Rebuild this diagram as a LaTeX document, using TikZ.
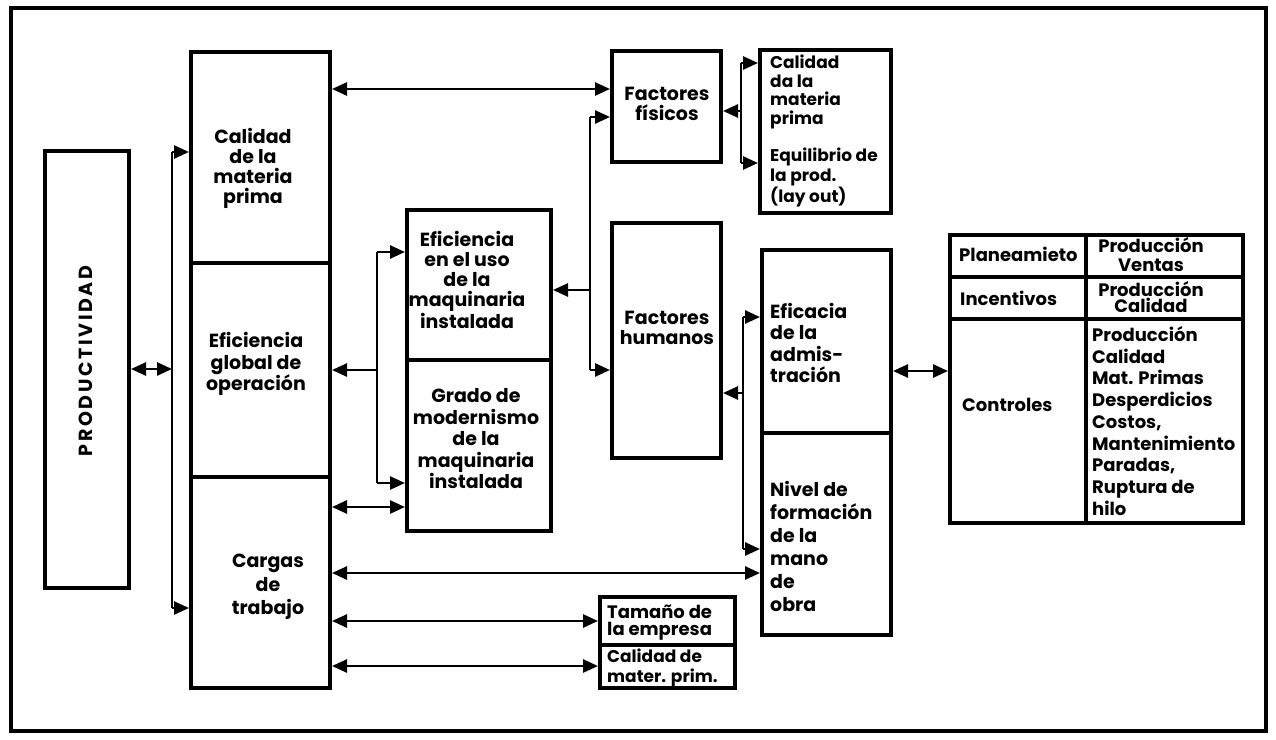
\documentclass[tikz,border=0pt]{standalone}
\usepackage{fontspec}
\setmainfont{Poppins}
\newfontfamily\prodfont[LetterSpace=14]{Poppins}
\usetikzlibrary{arrows.meta}
\newcommand\bx[5]{\node[box,minimum width={(#4)-(#2)-3.6},minimum height={(#5)-(#3)-3.6}] (#1) at (#2,#3) {};}
\begin{document}
\begin{tikzpicture}[x=1pt,y=-1pt,
 box/.style={draw,line width=3.6pt,anchor=north west,inner sep=0pt},
 conn/.style={line width=2.6pt},
 arr/.style={conn,-{Triangle[length=15pt,width=13pt]}},
 darr/.style={conn,{Triangle[length=15pt,width=13pt]}-{Triangle[length=15pt,width=13pt]}},
 lbl/.style={inner sep=0pt,align=center,font=\bfseries\fontsize{19}{21.5}\selectfont},
 lbll/.style={lbl,align=left,anchor=west},
 tabline/.style={line width=3.6pt}
]
\useasboundingbox (0,0) rectangle (1276,739);
\draw[line width=3.6pt] (11,8) rectangle (1266,731);

% boxes
\bx{prod}{43}{149}{131}{590}
\bx{cal}{189}{50}{332}{265}
\bx{efg}{189}{261}{332}{479}
\bx{carg}{189}{475}{332}{690}
\bx{efu}{405}{208}{553}{362}
\bx{grado}{405}{358}{553}{533}
\bx{ff}{610}{49}{723}{164}
\bx{fh}{610}{221}{723}{460}
\bx{rb}{758}{48}{893}{215}
\bx{efa}{760}{248}{893}{435}
\bx{niv}{760}{431}{893}{637}
\bx{tam}{598}{595}{737}{647}
\bx{cmp}{598}{643}{737}{690}
\bx{tab}{948}{233}{1245}{525}
\coordinate (tcol) at (1086,0);
\coordinate (trow1) at (0,277);
\coordinate (trow2) at (0,319);
\draw[tabline] (tab.north -| tcol) -- (tab.south -| tcol);
\draw[tabline] (tab.west |- trow1) -- (tab.east |- trow1);
\draw[tabline] (tab.west |- trow2) -- (tab.east |- trow2);

% texts
\node[inner sep=0pt,rotate=90,font=\prodfont\bfseries\fontsize{19}{20}\selectfont] (tprod) at (86,361) {PRODUCTIVIDAD};
\node[lbl,font=\bfseries\fontsize{19}{20}\selectfont] (tcal) at (253,168) {Calidad\\de la\\materia\\prima};
\node[lbl] (tefg) at (256,364) {Eficiencia\\global de\\operación};
\node[lbl,font=\bfseries\fontsize{19}{23.5}\selectfont] (tcarg) at (268,587) {Cargas\\de\\trabajo};
\node[lbl,font=\bfseries\fontsize{19}{20}\selectfont] (tefu) at (467,280) {Eficiencia\\en el uso\\de la\\maquinaria\\instalada};
\node[lbl] (tgrado) at (476,439) {Grado de\\modernismo\\de la\\maquinaria\\instalada};
\node[lbl,font=\bfseries\fontsize{19}{19.5}\selectfont] (tff) at (667,104) {Factores\\físicos};
\node[lbl,font=\bfseries\fontsize{19}{20}\selectfont] (tfh) at (667,328) {Factores\\humanos};
\node[lbll,font=\bfseries\fontsize{17}{18.7}\selectfont] (trb1) at (770,92) {Calidad\\da la\\materia\\prima};
\node[lbll,font=\bfseries\fontsize{17}{20.5}\selectfont] (trb2) at (770,177) {Equilibrio de\\la prod.\\(lay out)};
\node[lbll] (tefa) at (770,343) {Eficacia\\de la\\admis-\\tración};
\node[lbll,font=\bfseries\fontsize{19}{23}\selectfont] (tniv) at (770,546) {Nivel de\\formación\\de la\\mano\\de\\obra};
\node[lbll,font=\bfseries\fontsize{18}{17}\selectfont] (ttam) at (607,623) {Tamaño de\\la empresa};
\node[lbll,font=\bfseries\fontsize{17}{20}\selectfont] (tcmp) at (607,668) {Calidad de\\mater. prim.};
\node[lbll,font=\bfseries\fontsize{18}{20}\selectfont] (tplan) at (959,254) {Planeamieto};
\node[lbl,font=\bfseries\fontsize{18}{19}\selectfont] (tpv) at (1151,255) {Producción\\Ventas};
\node[lbll,font=\bfseries\fontsize{18}{20}\selectfont] (tinc) at (960,298) {Incentivos};
\node[lbl,font=\bfseries\fontsize{18}{16.5}\selectfont] (tpc) at (1151,297) {Producción\\Calidad};
\node[lbll,font=\bfseries\fontsize{18}{20}\selectfont] (tcon) at (962,405) {Controles};
\node[lbll,font=\bfseries\fontsize{18}{21.75}\selectfont] (tlist) at (1092,421) {Producción\\Calidad\\Mat. Primas\\Desperdicios\\Costos,\\Mantenimiento\\Paradas,\\Ruptura de\\hilo};

% junctions
\coordinate (j1t) at (172,152);
\coordinate (j1b) at (172,608);
\coordinate (j1m) at (172,369);
\coordinate (j2t) at (377,252);
\coordinate (j2b) at (377,483);
\coordinate (j2m) at (377,370);
\coordinate (j3t) at (590,117);
\coordinate (j3b) at (590,370);
\coordinate (j3m) at (590,290);
\coordinate (j4t) at (741,63);
\coordinate (j4b) at (741,163);
\coordinate (j4m) at (741,111);
\coordinate (j5t) at (743,317);
\coordinate (j5b) at (743,549);
\coordinate (j5m) at (743,393);
\coordinate (r1) at (0,89);
\coordinate (r2) at (0,507);
\coordinate (r3) at (0,573);
\coordinate (r4) at (0,621);
\coordinate (r5) at (0,666);
\coordinate (r6) at (0,371);

% connectors
\draw[darr] (prod.east |- j1m) -- (j1m);
\draw[conn] (j1t) -- (j1b);
\draw[arr] (j1t) -- (j1t -| cal.west);
\draw[arr] (j1b) -- (j1b -| carg.west);

\draw[darr] (cal.east |- r1) -- (ff.west |- r1);

\draw[conn] (j2t) -- (j2b);
\draw[arr] (j2t) -- (j2t -| efu.west);
\draw[arr] (j2b) -- (j2b -| grado.west);
\draw[arr] (j2m) -- (j2m -| efg.east);

\draw[darr] (carg.east |- r2) -- (grado.west |- r2);

\draw[conn] (j3t) -- (j3b);
\draw[arr] (j3t) -- (j3t -| ff.west);
\draw[arr] (j3b) -- (j3b -| fh.west);
\draw[arr] (j3m) -- (j3m -| efu.east);

\draw[conn] (j4t) -- (j4b);
\draw[arr] (j4t) -- (j4t -| rb.west);
\draw[arr] (j4b) -- (j4b -| rb.west);
\draw[arr] (j4m) -- (j4m -| ff.east);

\draw[conn] (j5t) -- (j5b);
\draw[arr] (j5t) -- (j5t -| efa.west);
\draw[arr] (j5b) -- (j5b -| niv.west);
\draw[arr] (j5m) -- (j5m -| fh.east);

\draw[darr] (carg.east |- r3) -- (niv.west |- r3);
\draw[darr] (carg.east |- r4) -- (tam.west |- r4);
\draw[darr] (carg.east |- r5) -- (cmp.west |- r5);
\draw[darr] (efa.east |- r6) -- (tab.west |- r6);
\end{tikzpicture}
\end{document}
